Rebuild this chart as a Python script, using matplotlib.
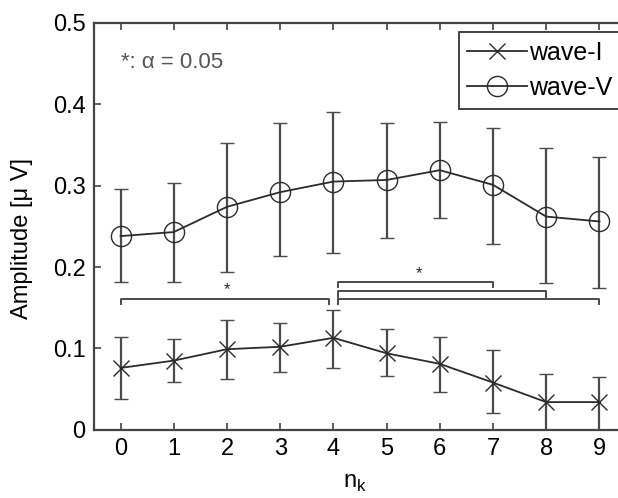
import matplotlib
matplotlib.use("Agg")
import matplotlib.pyplot as plt
from matplotlib.lines import Line2D

plt.rcParams["font.family"] = ["Liberation Sans", "DejaVu Sans"]
plt.rcParams["mathtext.fontset"] = "custom"
plt.rcParams["mathtext.rm"] = "Liberation Sans"

x_vals = [0, 1, 2, 3, 4, 5, 6, 7, 8, 9]
x_ticks = ["0", "1", "2", "3", "4", "5", "6", "7", "8", "9"]

# wave-I: mean with lower / upper error bar ends
wave1_mean = [0.076, 0.085, 0.099, 0.102, 0.113, 0.094, 0.081, 0.058, 0.034, 0.034]
wave1_low = [0.038, 0.059, 0.063, 0.071, 0.076, 0.066, 0.047, 0.020, 0.000, 0.000]
wave1_high = [0.114, 0.111, 0.135, 0.131, 0.147, 0.124, 0.114, 0.098, 0.068, 0.065]

# wave-V
wave5_mean = [0.238, 0.243, 0.274, 0.292, 0.305, 0.307, 0.319, 0.301, 0.262, 0.256]
wave5_low = [0.182, 0.182, 0.194, 0.213, 0.217, 0.236, 0.260, 0.228, 0.180, 0.174]
wave5_high = [0.296, 0.303, 0.353, 0.377, 0.391, 0.377, 0.378, 0.371, 0.346, 0.335]

# significance brackets (start, end, height)
sig_start = [0, 4, 4, 4]
sig_end = [4, 7, 8, 9]
sig_level = [0.161, 0.182, 0.170, 0.161]
star_x = [2, 5.6]
star_y = [0.172, 0.192]

line_col = "#2b2b2b"
err_col = "#4a4a4a"

fig = plt.figure(figsize=(6.18, 4.98), dpi=100)
ax = fig.add_axes([0.152, 0.137, 0.861, 0.817])

ax.errorbar(x_vals, wave1_mean,
            yerr=[[m - l for m, l in zip(wave1_mean, wave1_low)],
                  [h - m for m, h in zip(wave1_mean, wave1_high)]],
            color=line_col, ecolor=err_col, elinewidth=1.6, capsize=5, capthick=1.6,
            marker="x", markersize=11, markeredgewidth=1.0, linewidth=1.3)
ax.errorbar(x_vals, wave5_mean,
            yerr=[[m - l for m, l in zip(wave5_mean, wave5_low)],
                  [h - m for m, h in zip(wave5_mean, wave5_high)]],
            color=line_col, ecolor=err_col, elinewidth=1.6, capsize=5, capthick=1.6,
            marker="o", markersize=14.5, markerfacecolor="none", markeredgewidth=1.0,
            linewidth=1.3)

drop = 0.007
for s, e, lev in zip(sig_start, sig_end, sig_level):
    xs = s + 0.08 if s == 4 else s
    xe = e - 0.08 if e == 4 else e
    ax.plot([xs, xs, xe, xe], [lev - drop, lev, lev, lev - drop],
            color=err_col, linewidth=1.4)
for sx, sy in zip(star_x, star_y):
    ax.text(sx, sy, "*", ha="center", va="center", fontsize=12, color=line_col)

ax.text(0, 0.451, "*: α = 0.05", ha="left", va="center", fontsize=16, color="#555555")

ax.set_xlim(-0.5, 9.5)
ax.set_ylim(0, 0.5)
ax.set_xticks(x_vals)
ax.set_xticklabels(x_ticks)
ax.set_yticks([0, 0.1, 0.2, 0.3, 0.4, 0.5])
ax.set_yticklabels(["0", "0.1", "0.2", "0.3", "0.4", "0.5"])
ax.tick_params(direction="in", length=5, width=1.2, colors="#444444",
               labelcolor="#000000", labelsize=17, top=True, right=True, pad=6)
for sp in ax.spines.values():
    sp.set_color("#444444")
    sp.set_linewidth(1.6)

ax.set_xlabel("n$_{\\mathrm{k}}$", fontsize=17, color="#000000")
ax.xaxis.set_label_coords(0.49, -0.103)
ax.set_ylabel("Amplitude [μ V]", fontsize=17, color="#000000")
ax.yaxis.set_label_coords(-0.115, 0.47)

handles = [
    Line2D([], [], color=line_col, marker="x", markersize=11, markeredgewidth=1.0,
           linewidth=1.3),
    Line2D([], [], color=line_col, marker="o", markersize=14.5, markerfacecolor="none",
           markeredgewidth=1.0, linewidth=1.3),
]
leg = ax.legend(handles, ["wave-I", "wave-V"], loc="upper right",
                bbox_to_anchor=(0.99, 0.978), fontsize=18,
                handlelength=2.4, handletextpad=0.05, borderpad=0.35,
                labelspacing=0.45, borderaxespad=0, fancybox=False, framealpha=1)
leg.get_frame().set_edgecolor("#333333")
leg.get_frame().set_linewidth(1.3)

fig.savefig("out.png", dpi=100)
